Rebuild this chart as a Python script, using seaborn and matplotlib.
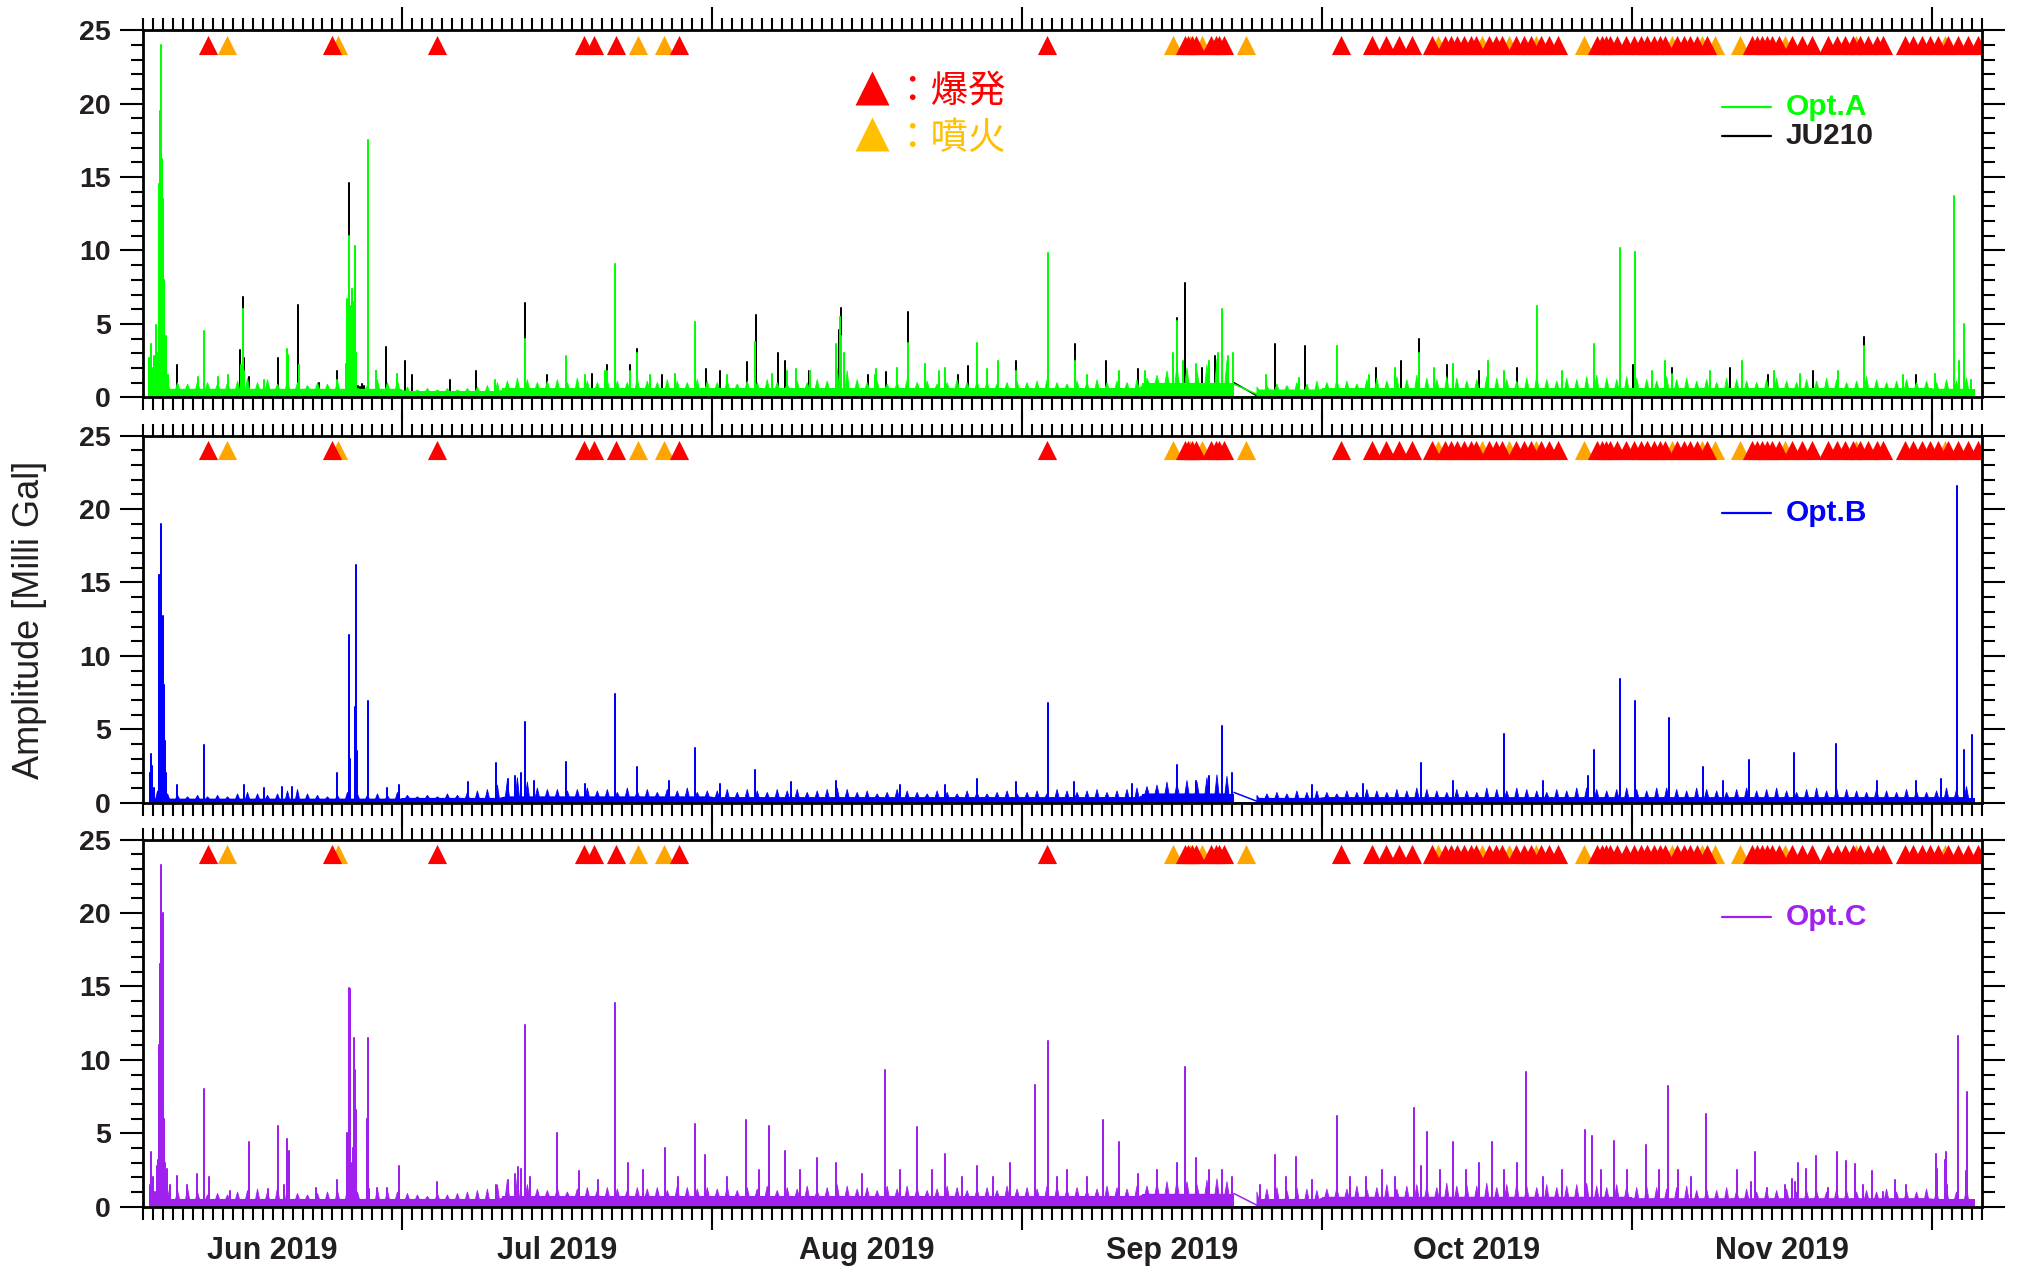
import numpy as np
import pandas as pd
import matplotlib
matplotlib.use("Agg")
import matplotlib.pyplot as plt
import matplotlib.dates as mdates
from matplotlib.ticker import MultipleLocator, NullFormatter
import seaborn as sns
from datetime import datetime

sns.set_theme(style="ticks")
plt.rcParams["font.family"] = ["Liberation Sans", "DejaVu Sans"]

nan = np.nan
# ---------------------------------------------------------------- data
# time is expressed in days since 2019-06-01 00:00
ORIGIN = mdates.date2num(datetime(2019, 6, 1))
X_START, X_END = 4.0, 188.0          # 2019-06-05 .. 2019-12-06
MARK_Y = 24.0                        # row on which events are marked

month_labels = ["Jun 2019", "Jul 2019", "Aug 2019", "Sep 2019", "Oct 2019", "Nov 2019"]
month_bounds = [4.0, 30, 61, 92, 122, 153, 183]

# explosions (爆発) and eruptions (噴火)
explosion_days = [10.59, 22.98, 33.49, 48.21, 49.16, 51.41, 57.71, 94.52,
                  108.26, 108.56, 108.96, 109.36, 110.92, 111.42, 111.75, 112.25,
                  123.91, 127.06, 128.40, 129.73, 131.06,
                  133.0, 134.32, 134.9, 135.56, 136.22, 136.89, 137.39, 138.72, 139.39,
                  140.05, 141.39, 142.22, 142.89, 143.89, 144.72, 145.65,
                  149.54, 149.98, 150.38, 150.78, 151.54, 152.38, 153.21, 153.88, 154.54,
                  155.21, 155.88, 156.38, 157.53, 158.20, 158.87, 159.53, 160.53,
                  165.03, 165.53, 166.03, 166.53, 167.02, 167.69, 169.02, 170.02, 171.02,
                  172.69, 173.52, 174.36, 175.19, 175.86, 176.69, 177.51, 178.18,
                  180.35, 181.18, 182.01, 182.85, 183.68, 184.68, 185.68, 186.68, 187.68]
eruption_days = [12.45, 23.59, 53.56, 56.21, 107.08, 108.8, 110.05, 114.42,
                 133.65, 138.05, 140.72, 143.39, 148.21, 154.5, 157.03, 160.03,
                 161.37, 163.87, 168.36, 175.4, 184.3]

# daily envelope of the background noise, one value per day from Jun 6 (day 5)
optA_daily = [
    1.0, 1.2, 1.0, 0.9, 1.1, 1.0, 0.9, 1.0, 1.1, 1.3, 1.0, 1.2, 0.9, 1.3, 1.0, 0.8, 1.0, 0.9, 1.1, 1.6, 0.6, 0.8, 1.2, 1.0, 1.2,
    0.7, 0.5, 0.6, 0.5, 0.6, 0.5, 0.6, 0.7, 0.8, 1.0, 1.1, 1.3, 1.2, 1.0, 1.1, 1.2, 1.0, 1.3, 1.1, 1.0, 1.2, 1.1, 1.0, 1.3, 1.1, 1.0, 1.2, 1.1, 1.0, 1.2, 1.1,
    1.0, 1.2, 0.9, 1.1, 1.0, 1.2, 1.0, 0.9, 1.1, 1.0, 1.2, 1.1, 2.0, 1.8, 1.2, 1.0, 1.1, 0.9, 1.0, 1.2, 1.0, 1.1, 0.9, 1.0, 1.2, 1.0, 1.1, 1.0, 0.9, 1.0, 1.1,
    1.0, 1.1, 1.2, 1.0, 0.9, 1.1, 1.0, 1.2, 1.0, 1.1, 1.0, 1.2, 1.3, 1.5, 1.8, 2.2, 2.0, 1.8, 2.2, 2.6, 2.5, nan, nan, 0.7, 0.8, 0.9, 0.8, 1.0, 0.9, 1.1,
    1.0, 1.2, 1.1, 0.9, 1.2, 1.3, 1.1, 1.4, 1.2, 1.5, 1.3, 1.2, 1.4, 1.3, 1.1, 1.2, 1.4, 1.3, 1.2, 1.1, 1.3, 1.5, 1.2, 1.1, 1.3, 1.2, 1.4, 1.5, 1.3, 1.2, 1.4,
    1.3, 1.2, 1.1, 1.4, 1.2, 1.3, 1.1, 1.2, 1.0, 1.3, 1.2, 1.1, 1.0, 1.2, 1.3, 1.1, 1.0, 1.2, 1.1, 1.3, 1.2, 1.0, 1.1, 1.4, 1.2, 1.0, 1.1, 1.2, 1.0, 1.1,
    1.0, 1.2, 1.1, 1.3]
optB_daily = [
    0.8, 0.6, 0.5, 0.4, 0.5, 0.4, 0.5, 0.4, 0.6, 0.7, 0.6, 0.5, 0.6, 0.8, 0.9, 0.6, 0.5, 0.4, 0.5, 0.7, 0.6, 0.5, 0.6, 0.5, 0.7,
    0.5, 0.4, 0.5, 0.4, 0.6, 0.5, 0.7, 0.8, 0.9, 1.2, 1.5, 1.7, 1.4, 1.0, 0.9, 0.9, 0.8, 0.9, 1.0, 0.8, 0.9, 0.7, 1.0, 0.8, 0.9, 0.7, 0.9, 0.8, 1.0, 0.7, 0.8,
    0.8, 0.9, 0.7, 0.9, 0.8, 0.7, 0.9, 0.8, 0.9, 0.7, 0.8, 0.9, 1.0, 0.9, 0.7, 0.8, 0.6, 0.7, 0.9, 0.8, 0.7, 0.6, 0.8, 0.7, 0.6, 0.8, 0.7, 0.6, 0.7, 0.8, 0.6,
    0.7, 0.8, 0.6, 0.9, 0.8, 0.7, 0.8, 0.9, 0.7, 0.8, 0.9, 1.0, 1.1, 1.2, 1.4, 1.3, 1.5, 1.4, 1.7, 1.9, 1.8, nan, nan, 0.5, 0.6, 0.7, 0.6, 0.8, 0.7, 0.8,
    0.7, 0.6, 0.8, 0.7, 0.9, 0.8, 0.7, 0.9, 0.8, 1.0, 0.9, 0.8, 0.7, 0.9, 0.8, 0.7, 1.0, 0.9, 0.8, 1.0, 0.9, 0.8, 0.7, 0.9, 0.8, 1.0, 1.0, 0.9, 0.8, 0.9, 1.0,
    0.9, 0.8, 1.0, 1.0, 0.9, 0.8, 1.0, 0.9, 0.8, 0.7, 0.9, 1.0, 0.8, 0.9, 1.0, 0.8, 0.7, 0.9, 1.0, 0.8, 1.0, 0.9, 0.8, 0.7, 0.9, 0.8, 0.7, 0.9, 0.8, 0.7,
    0.8, 1.0, 0.9, 1.1]
optC_daily = [
    1.0, 1.2, 1.1, 1.3, 1.0, 0.8, 0.9, 0.8, 1.0, 1.1, 1.2, 1.0, 1.3, 1.4, 0.9, 0.8, 0.9, 1.0, 1.1, 1.3, 1.0, 0.6, 1.2, 1.1, 1.0,
    0.9, 0.8, 0.7, 0.9, 0.8, 0.9, 1.0, 1.1, 1.2, 1.5, 1.8, 2.0, 1.5, 1.2, 1.1, 1.3, 1.0, 1.2, 1.3, 1.1, 1.3, 1.2, 1.1, 1.3, 1.2, 1.3, 1.1, 1.4, 1.3, 1.2, 1.3,
    1.2, 1.4, 1.1, 1.3, 1.2, 1.4, 1.1, 1.3, 1.2, 1.4, 1.1, 1.3, 1.5, 1.4, 1.2, 1.3, 1.1, 1.4, 1.2, 1.4, 1.3, 1.1, 1.2, 1.4, 1.3, 1.1, 1.2, 1.3, 1.1, 1.4, 1.2,
    1.3, 1.2, 1.4, 1.4, 1.2, 1.3, 1.1, 1.2, 1.4, 1.3, 1.2, 1.4, 1.4, 1.6, 1.7, 1.8, 1.7, 1.5, 1.8, 1.9, 1.7, nan, nan, 1.0, 1.2, 1.3, 1.1, 1.3, 1.2, 1.1,
    1.2, 1.3, 1.2, 1.4, 1.2, 1.3, 1.5, 1.2, 1.4, 1.5, 1.4, 1.3, 1.6, 1.4, 1.5, 1.4, 1.6, 1.3, 1.5, 1.6, 1.4, 1.3, 1.5, 1.3, 1.4, 1.5, 1.6, 1.4, 1.3, 1.5, 1.4,
    1.3, 1.4, 1.3, 1.2, 1.3, 1.4, 1.1, 1.2, 1.1, 1.3, 1.1, 1.2, 1.0, 1.2, 1.1, 1.2, 1.0, 1.1, 1.1, 1.0, 1.2, 1.1, 1.0, 1.1, 1.0, 1.2, 1.0, 1.1, 1.0, 1.2,
    1.1, 1.2, 1.0, 1.3]
FIRST_DAILY_DAY = 5

# solid low-amplitude floor of each record (piecewise levels)
floor_start = [4.65, 30, 40, 61, 92, 104, 115.5, 122, 153, 183]
floor_end = [30, 40, 61, 92, 104, 113.2, 122, 153, 183, 187.3]
optA_floor = [0.55, 0.4, 0.6, 0.6, 0.6, 0.95, 0.5, 0.6, 0.6, 0.55]
ju210_floor = [0.35, 0.25, 0.4, 0.4, 0.4, 0.6, 0.3, 0.4, 0.4, 0.35]
optB_floor = [0.25, 0.3, 0.4, 0.35, 0.35, 0.6, 0.3, 0.35, 0.35, 0.35]
optC_floor = [0.5, 0.5, 0.7, 0.7, 0.7, 0.85, 0.5, 0.65, 0.55, 0.5]

# data gap (Sep 22 - Sep 24) bridged by a straight line
gap_days = [113.2, 115.5]
optA_gap = [0.9, 0.2]
ju210_gap = [1.0, 0.1]
optB_gap = [0.7, 0.1]
optC_gap = [0.9, 0.1]

# individual peaks (day, amplitude)
optA_peaks = [
    (4.69, 2.7), (4.86, 3.6), (5.02, 2.0), (5.12, 2.8), (5.25, 2.0), (5.38, 4.9), (5.52, 3.0), (5.65, 14.5),
    (5.75, 19.5), (5.85, 24.0), (5.95, 16.2), (6.05, 13.5), (6.15, 8.0), (6.25, 3.0), (6.38, 4.2), (6.52, 1.5),
    (9.52, 1.4), (10.12, 4.5), (11.52, 1.4), (12.52, 1.5), (13.85, 2.2), (14.02, 6.0), (14.18, 1.8), (16.17, 1.2),
    (18.44, 3.3), (18.57, 2.9), (19.6, 2.2), (23.5, 1.2), (24.34, 2.3), (24.44, 6.7), (24.54, 6.0), (24.61, 11.0),
    (24.74, 5.5), (24.84, 6.2), (25.0, 7.4), (25.1, 6.5), (25.2, 5.0), (25.3, 10.3), (25.4, 3.0), (26.53, 17.5),
    (27.33, 1.8), (29.5, 1.6), (39.3, 1.2), (42.3, 4.0), (46.4, 2.8), (48.3, 1.5), (50.3, 1.8), (50.5, 1.8),
    (51.3, 9.1), (52.8, 1.8), (53.5, 3.0), (54.8, 1.5), (57.3, 1.6), (59.3, 5.1), (62.5, 1.5), (65.3, 3.8),
    (67.0, 1.6), (68.5, 1.8), (69.4, 1.9), (70.8, 1.8), (73.4, 3.6), (73.8, 5.5), (73.9, 4.2), (74.2, 3.0),
    (77.3, 1.5), (77.4, 1.9), (79.5, 2.0), (80.6, 3.7), (82.3, 2.3), (83.7, 1.8), (84.3, 2.0), (87.5, 3.7),
    (88.5, 1.9), (89.6, 2.5), (91.4, 1.8), (94.6, 9.8), (97.3, 2.5), (98.5, 1.5), (101.7, 1.8), (104.3, 1.8),
    (107.1, 3.0), (107.5, 5.2), (108.1, 2.5), (109.4, 2.3), (110.7, 2.5), (111.6, 3.0), (112.0, 6.0), (112.6, 2.8),
    (113.1, 3.0), (116.4, 1.5), (119.7, 1.3), (123.5, 3.5), (126.7, 1.5), (129.3, 2.0), (131.7, 3.0), (133.2, 2.0),
    (135.1, 2.3), (138.6, 2.5), (140.2, 1.8), (143.5, 6.2), (146.0, 1.8), (149.2, 3.6), (151.8, 10.2), (153.3, 9.9),
    (155.0, 1.8), (156.3, 2.5), (157.0, 1.6), (160.8, 1.8), (164.0, 2.5), (167.2, 1.8), (169.8, 1.6), (173.6, 1.8),
    (176.2, 3.5), (180.1, 1.5), (183.3, 1.6), (185.2, 13.7), (185.7, 2.5), (186.2, 5.0), (186.9, 1.2)]
ju210_peaks = [
    (5.95, 1.2), (7.42, 2.2), (13.72, 3.2), (14.02, 6.8), (14.18, 2.7), (14.68, 1.4), (17.57, 2.7), (19.57, 6.3),
    (21.67, 1.0), (23.5, 1.8), (24.61, 14.6), (25.6, 0.8), (25.8, 0.7), (26.0, 0.9), (26.2, 0.8), (27.36, 1.8),
    (28.4, 3.4), (30.23, 2.5), (31.0, 1.5), (34.8, 1.2), (37.4, 1.8), (42.3, 6.4), (44.5, 1.5), (49.0, 1.6),
    (50.5, 2.2), (52.8, 2.2), (53.5, 3.3), (56.0, 1.5), (60.4, 1.9), (61.8, 1.8), (64.5, 2.4), (65.4, 5.6),
    (67.6, 3.0), (68.3, 2.5), (70.7, 1.8), (73.7, 4.6), (73.9, 6.1), (76.6, 1.5), (78.4, 1.7), (80.6, 5.8),
    (85.6, 1.5), (86.6, 2.1), (91.4, 2.5), (97.3, 3.6), (100.4, 2.5), (103.6, 1.9), (107.5, 5.4), (108.3, 7.8),
    (110.0, 2.0), (111.3, 2.8), (117.3, 3.6), (120.3, 3.5), (127.4, 2.0), (129.9, 2.5), (131.7, 4.0), (134.5, 2.2),
    (137.7, 1.8), (141.5, 2.0), (153.1, 2.2), (157.0, 2.0), (162.8, 2.0), (166.6, 1.5), (171.1, 1.8), (176.2, 4.1),
    (181.4, 1.5)]
optB_peaks = [
    (4.75, 2.0), (4.86, 3.3), (4.99, 2.5), (5.19, 1.0), (5.65, 15.5), (5.78, 15.5), (5.88, 19.0), (6.01, 12.7),
    (6.11, 8.0), (6.25, 4.2), (6.38, 2.0), (7.45, 1.2), (10.12, 3.9), (14.18, 1.2), (16.17, 1.0), (17.98, 1.1),
    (18.9, 1.1), (23.5, 2.0), (24.61, 11.4), (24.74, 3.0), (25.27, 6.5), (25.37, 16.2), (25.47, 3.5), (26.53, 6.9),
    (28.5, 1.0), (29.7, 1.2), (36.55, 1.4), (39.4, 2.7), (40.6, 1.6), (41.3, 1.8), (41.9, 2.0), (42.3, 5.5),
    (43.2, 1.5), (46.4, 2.8), (48.3, 1.3), (51.3, 7.4), (53.5, 2.4), (56.7, 1.5), (59.3, 3.7), (61.8, 1.3),
    (65.3, 2.2), (68.9, 1.4), (73.4, 1.5), (79.8, 1.2), (84.3, 1.2), (87.5, 1.6), (91.4, 1.4), (94.6, 6.8),
    (97.2, 1.4), (103.0, 1.3), (107.5, 2.6), (109.4, 1.5), (110.7, 1.8), (112.0, 5.2), (113.0, 2.0), (121.0, 1.2),
    (126.1, 1.3), (131.9, 2.7), (135.1, 1.5), (140.2, 4.7), (144.1, 1.5), (148.6, 1.8), (149.2, 3.6), (151.8, 8.4),
    (153.3, 6.9), (156.7, 5.8), (160.1, 2.4), (162.1, 1.5), (164.7, 2.9), (169.2, 3.4), (173.4, 4.0), (177.5, 1.5),
    (181.4, 1.5), (183.9, 1.6), (185.5, 21.6), (186.2, 3.6), (187.0, 4.6)]
optC_peaks = [
    (4.75, 1.5), (4.86, 3.7), (5.02, 2.0), (5.25, 1.0), (5.42, 2.8), (5.55, 3.2), (5.65, 11.0), (5.75, 16.5),
    (5.88, 23.3), (5.98, 11.0), (6.05, 20.0), (6.15, 6.0), (6.25, 3.0), (6.42, 2.6), (6.72, 1.5), (7.42, 2.1),
    (8.45, 1.5), (9.45, 2.2), (10.12, 8.0), (10.68, 2.0), (12.72, 1.1), (14.65, 4.4), (16.51, 1.2), (17.57, 5.5),
    (18.1, 1.5), (18.4, 4.6), (18.61, 3.8), (21.37, 1.3), (23.5, 1.8), (24.5, 5.0), (24.61, 14.9), (24.74, 14.8),
    (24.84, 3.0), (25.07, 4.0), (25.17, 11.5), (25.3, 9.3), (25.4, 6.6), (26.43, 6.0), (26.53, 11.5), (26.63, 1.2),
    (27.5, 1.3), (28.43, 1.3), (29.7, 2.8), (33.5, 1.7), (39.32, 1.5), (40.6, 1.8), (41.3, 2.2), (41.55, 2.7),
    (41.9, 2.6), (42.3, 12.4), (42.8, 2.0), (45.5, 5.0), (47.7, 2.4), (49.6, 1.8), (51.3, 13.9), (52.6, 3.0),
    (54.1, 2.5), (56.3, 4.0), (57.6, 2.0), (59.3, 5.6), (60.3, 3.5), (62.5, 2.0), (64.4, 5.9), (65.7, 2.5),
    (66.7, 5.5), (68.3, 3.8), (69.8, 2.5), (71.5, 3.3), (73.4, 3.0), (76.0, 2.2), (78.3, 9.3), (79.8, 2.5),
    (81.5, 5.4), (83.0, 2.5), (84.3, 3.6), (86.0, 2.0), (87.5, 2.8), (89.1, 2.0), (90.8, 3.0), (93.3, 8.3),
    (94.6, 11.3), (95.5, 2.0), (96.5, 2.5), (98.5, 2.0), (100.1, 5.9), (101.7, 4.4), (103.6, 2.2), (105.5, 2.5),
    (107.5, 3.0), (108.3, 9.5), (109.4, 3.3), (110.7, 2.5), (112.0, 2.5), (113.0, 2.0), (115.8, 1.5), (117.3, 3.5),
    (118.4, 2.0), (119.4, 3.4), (121.0, 1.8), (123.5, 6.2), (124.8, 2.0), (126.4, 2.0), (128.0, 2.5), (129.3, 2.0),
    (131.2, 6.7), (131.9, 2.8), (132.5, 5.1), (133.8, 2.5), (135.1, 4.4), (136.4, 2.5), (137.7, 3.0), (139.0, 4.4),
    (140.2, 2.5), (141.5, 3.0), (142.4, 9.2), (144.1, 2.0), (146.0, 2.5), (148.3, 5.2), (149.0, 4.8), (149.9, 2.5),
    (151.2, 4.5), (152.5, 2.5), (154.4, 4.2), (155.7, 2.5), (156.6, 8.2), (157.6, 2.5), (158.9, 2.0), (160.4, 6.3),
    (163.5, 2.5), (164.9, 1.7), (165.3, 3.7), (166.5, 1.3), (168.3, 1.5), (169.0, 1.9), (169.3, 1.7), (169.6, 3.0),
    (170.4, 2.6), (171.4, 3.45), (172.6, 1.3), (173.5, 3.7), (174.4, 3.1), (175.3, 2.9), (176.1, 1.5), (177.0, 2.4),
    (178.1, 1.0), (179.3, 1.8), (180.4, 1.5), (183.4, 3.6), (183.55, 2.6), (184.3, 3.2), (184.4, 3.7), (184.55, 1.5),
    (185.6, 11.6), (185.65, 5.8), (186.4, 2.4), (186.5, 7.8)]

# ---------------------------------------------------------------- style
GREEN, BLACK, BLUE, PURPLE = "#00FF00", "#000000", "#0000FF", "#A020F0"
RED, ORANGE, AMBER = "#FF0000", "#FFA500", "#FFC000"
TXT = "#231F20"
LW = 1.1


def floor_at(levels, d):
    for s, e, lv in zip(floor_start, floor_end, levels):
        if s <= d <= e:
            return lv
    return nan


def spike_frame(peaks):
    xs, ys = [], []
    for d, v in sorted(peaks):
        xs += [d, d, d]
        ys += [0.0, v, 0.0]
    return pd.DataFrame({"x": ORIGIN + np.array(xs), "y": ys})


def envelope(levels, daily):
    """narrow daily noise bursts standing on the floor level"""
    xs, ys = [], []
    for i, v in enumerate(daily):
        d = FIRST_DAILY_DAY + i
        if np.isnan(v):
            xs.append(d + 0.5)
            ys.append(nan)
            continue
        xs += [d + 0.3, d + 0.5, d + 0.7]
        ys += [floor_at(levels, d + 0.3), v, floor_at(levels, d + 0.7)]
    return np.array(xs), np.array(ys, dtype=float)


def draw_record(ax, levels, daily, peaks, gap, color):
    for s, e, lv in zip(floor_start, floor_end, levels):
        ax.fill_between(ORIGIN + np.array([s, e]), 0, [lv, lv], color=color, lw=0, zorder=2)
    if daily is not None:
        ex, ey = envelope(levels, daily)
        ax.fill_between(ORIGIN + ex, 0, ey, color=color, lw=0.6, edgecolor=color, zorder=2)
    sns.lineplot(data=spike_frame(peaks), x="x", y="y", sort=False,
                 estimator=None, color=color, lw=LW, ax=ax, legend=False, zorder=2)
    sns.lineplot(x=ORIGIN + np.array(gap_days), y=gap, color=color, lw=LW,
                 ax=ax, estimator=None, legend=False, zorder=2)


def draw_events(ax):
    sns.scatterplot(x=ORIGIN + np.array(eruption_days), y=[MARK_Y] * len(eruption_days),
                    marker="^", s=190, color=ORANGE, linewidth=0, ax=ax, zorder=6, legend=False)
    sns.scatterplot(x=ORIGIN + np.array(explosion_days), y=[MARK_Y] * len(explosion_days),
                    marker="^", s=190, color=RED, linewidth=0, ax=ax, zorder=7, legend=False)


def style_axes(ax, bottom_labels):
    ax.set_xlim(ORIGIN + X_START, ORIGIN + X_END)
    ax.set_ylim(0, 25)
    ax.set_xlabel("")
    ax.set_ylabel("")
    ax.xaxis.set_major_locator(mdates.MonthLocator())
    ax.xaxis.set_minor_locator(mdates.DayLocator())
    ax.xaxis.set_major_formatter(NullFormatter())
    ax.yaxis.set_major_locator(MultipleLocator(5))
    ax.yaxis.set_minor_locator(MultipleLocator(1))
    for s in ax.spines.values():
        s.set_visible(True)
        s.set_color("black")
        s.set_linewidth(2.0)
        s.set_zorder(10)
    ax.tick_params(which="major", direction="out", length=16.5, width=1.5,
                   color="black", top=True, right=True, bottom=True, left=True,
                   labelsize=20.5, labelcolor=TXT, pad=6.5,
                   labeltop=False, labelright=False, labelbottom=False, labelleft=True)
    ax.tick_params(which="minor", direction="out", length=9, width=1.5,
                   color="black", top=True, right=True, bottom=True, left=True)
    for lab in ax.get_yticklabels():
        lab.set_fontweight("bold")
    ax.set_facecolor("white")
    if bottom_labels:
        for i, lbl in enumerate(month_labels):
            c = 0.5 * (month_bounds[i] + month_bounds[i + 1])
            ax.annotate(lbl, xy=(ORIGIN + c, 0), xycoords=("data", "axes fraction"),
                        xytext=(0, -38), textcoords="offset points", ha="center",
                        va="baseline", fontsize=22, fontweight="bold", color=TXT)


def series_key(ax, rows):
    for (label, color, y) in rows:
        ax.plot([0.8591, 0.8858], [y, y], color="black" if color == TXT else color,
                lw=1.6, transform=ax.transAxes, clip_on=False)
        ax.text(0.8934, y, label, transform=ax.transAxes, ha="left", va="center",
                fontsize=21.5, fontweight="bold", color=color)


# ---------------------------------------------------------------- figure
fig = plt.figure(figsize=(20.17, 12.67), dpi=100)
fig.patch.set_facecolor("white")
L, W, H = 0.0707, 0.9117, 0.2897
ax1 = fig.add_axes([L, 0.68642, W, H])
ax2 = fig.add_axes([L, 0.36645, W, H])
ax3 = fig.add_axes([L, 0.04759, W, H])

draw_record(ax1, ju210_floor, None, ju210_peaks, ju210_gap, BLACK)
draw_record(ax1, optA_floor, optA_daily, optA_peaks, optA_gap, GREEN)
draw_record(ax2, optB_floor, optB_daily, optB_peaks, optB_gap, BLUE)
draw_record(ax3, optC_floor, optC_daily, optC_peaks, optC_gap, PURPLE)

for ax, bl in ((ax1, False), (ax2, False), (ax3, True)):
    draw_events(ax)
    style_axes(ax, bl)

series_key(ax1, [("Opt.A", GREEN, 0.7905), ("JU210", TXT, 0.7110)])
series_key(ax2, [("Opt.B", BLUE, 0.7905)])
series_key(ax3, [("Opt.C", PURPLE, 0.7905)])

# event key
cjk = ["Noto Sans CJK JP", "DejaVu Sans"]
ax1.plot([0.3966], [0.842], marker="^", ms=25, color=RED, mec="none",
         transform=ax1.transAxes, clip_on=False, ls="none")
ax1.plot([0.3966], [0.716], marker="^", ms=25, color=AMBER, mec="none",
         transform=ax1.transAxes, clip_on=False, ls="none")
ax1.text(0.4082, 0.835, "：爆発", transform=ax1.transAxes, ha="left", va="center",
         fontsize=27, color=RED, family=cjk)
ax1.text(0.4082, 0.705, "：噴火", transform=ax1.transAxes, ha="left", va="center",
         fontsize=27, color=AMBER, family=cjk)

fig.text(0.01453, 1 - 620 / 1267, "Amplitude [Milli Gal]", rotation=90,
         ha="center", va="center", fontsize=26, color=TXT)

fig.savefig("out.png", dpi=100, facecolor="white")
